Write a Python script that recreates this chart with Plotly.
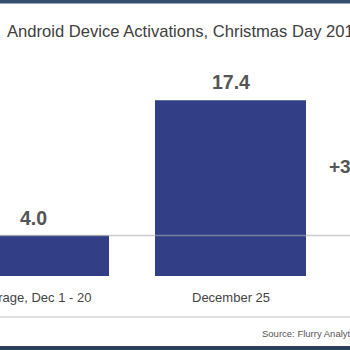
import plotly.graph_objects as go

categories = ["Average, Dec 1 - 20", "December 25"]
values = [4.0, 17.4]
value_labels = ["4.0", "17.4"]
title_text = "Android Device Activations, Christmas Day 2011"
change_label = "+335%"
source_text = "Source: Flurry Analytics"
ref_value = 4.0

BAR = "#323f87"
TXT = "#555555"
PLOT_BOTTOM = 276  # pixel of y=0

def py(p):
    # pixel y -> paper y
    return (PLOT_BOTTOM - p) / PLOT_BOTTOM

xpos = list(range(len(categories)))

fig = go.Figure()
fig.add_trace(go.Bar(
    x=xpos, y=values, width=0.7665,
    marker=dict(color=BAR, line=dict(width=0)),
    hoverinfo="skip",
))

annotations = []
for xp, v, lab in zip(xpos, values, value_labels):
    annotations.append(dict(
        x=xp, y=v, xref="x", yref="y", text="<b>%s</b>" % lab,
        showarrow=False, yanchor="bottom", yshift=5,
        font=dict(family="Liberation Sans, Arial", size=19.5, color=TXT),
    ))
for xp, c in zip(xpos, categories):
    annotations.append(dict(
        x=xp, y=py(297), xref="x", yref="paper", text=c,
        showarrow=False, yanchor="middle",
        font=dict(family="Liberation Sans, Arial", size=13, color="#444444"),
    ))
annotations.append(dict(
    x=5 / 350, y=py(32), xref="paper", yref="paper", text=title_text,
    showarrow=False, xanchor="left", yanchor="middle",
    font=dict(family="Liberation Sans, Arial", size=16.6, color="#404040"),
))
annotations.append(dict(
    x=327 / 350, y=py(166), xref="paper", yref="paper", text="<b>%s</b>" % change_label,
    showarrow=False, xanchor="left", yanchor="middle",
    font=dict(family="Liberation Sans, Arial", size=19, color=TXT),
))
annotations.append(dict(
    x=260 / 350, y=py(333), xref="paper", yref="paper", text=source_text,
    showarrow=False, xanchor="left", yanchor="middle",
    font=dict(family="Liberation Sans, Arial", size=9.5, color="#555555"),
))

shapes = [
    dict(type="line", xref="paper", yref="y", x0=0, x1=1, y0=ref_value, y1=ref_value,
         line=dict(color="rgba(170,170,170,0.6)", width=1.5), layer="above"),
    dict(type="rect", xref="paper", yref="paper", x0=0, x1=1, y0=py(0), y1=py(3.5),
         fillcolor="#34506e", line=dict(width=0)),
    dict(type="line", xref="paper", yref="paper", x0=0, x1=1, y0=py(317), y1=py(317),
         line=dict(color="#d4d4d4", width=1.5)),
    dict(type="rect", xref="paper", yref="paper", x0=0, x1=1, y0=py(346), y1=py(350),
         fillcolor="#2c3f59", line=dict(width=0)),
]

unit = 197.0
fig.update_layout(
    width=350, height=350,
    margin=dict(l=0, r=0, t=0, b=350 - PLOT_BOTTOM, pad=0),
    paper_bgcolor="white", plot_bgcolor="white",
    showlegend=False,
    xaxis=dict(range=[-33.5 / unit, 316.5 / unit], showgrid=False, zeroline=False,
               showticklabels=False, showline=False, fixedrange=True),
    yaxis=dict(range=[0, PLOT_BOTTOM / 10.1], showgrid=False, zeroline=False,
               showticklabels=False, showline=False, fixedrange=True),
    annotations=annotations,
    shapes=shapes,
)

fig.write_html("out.html")
